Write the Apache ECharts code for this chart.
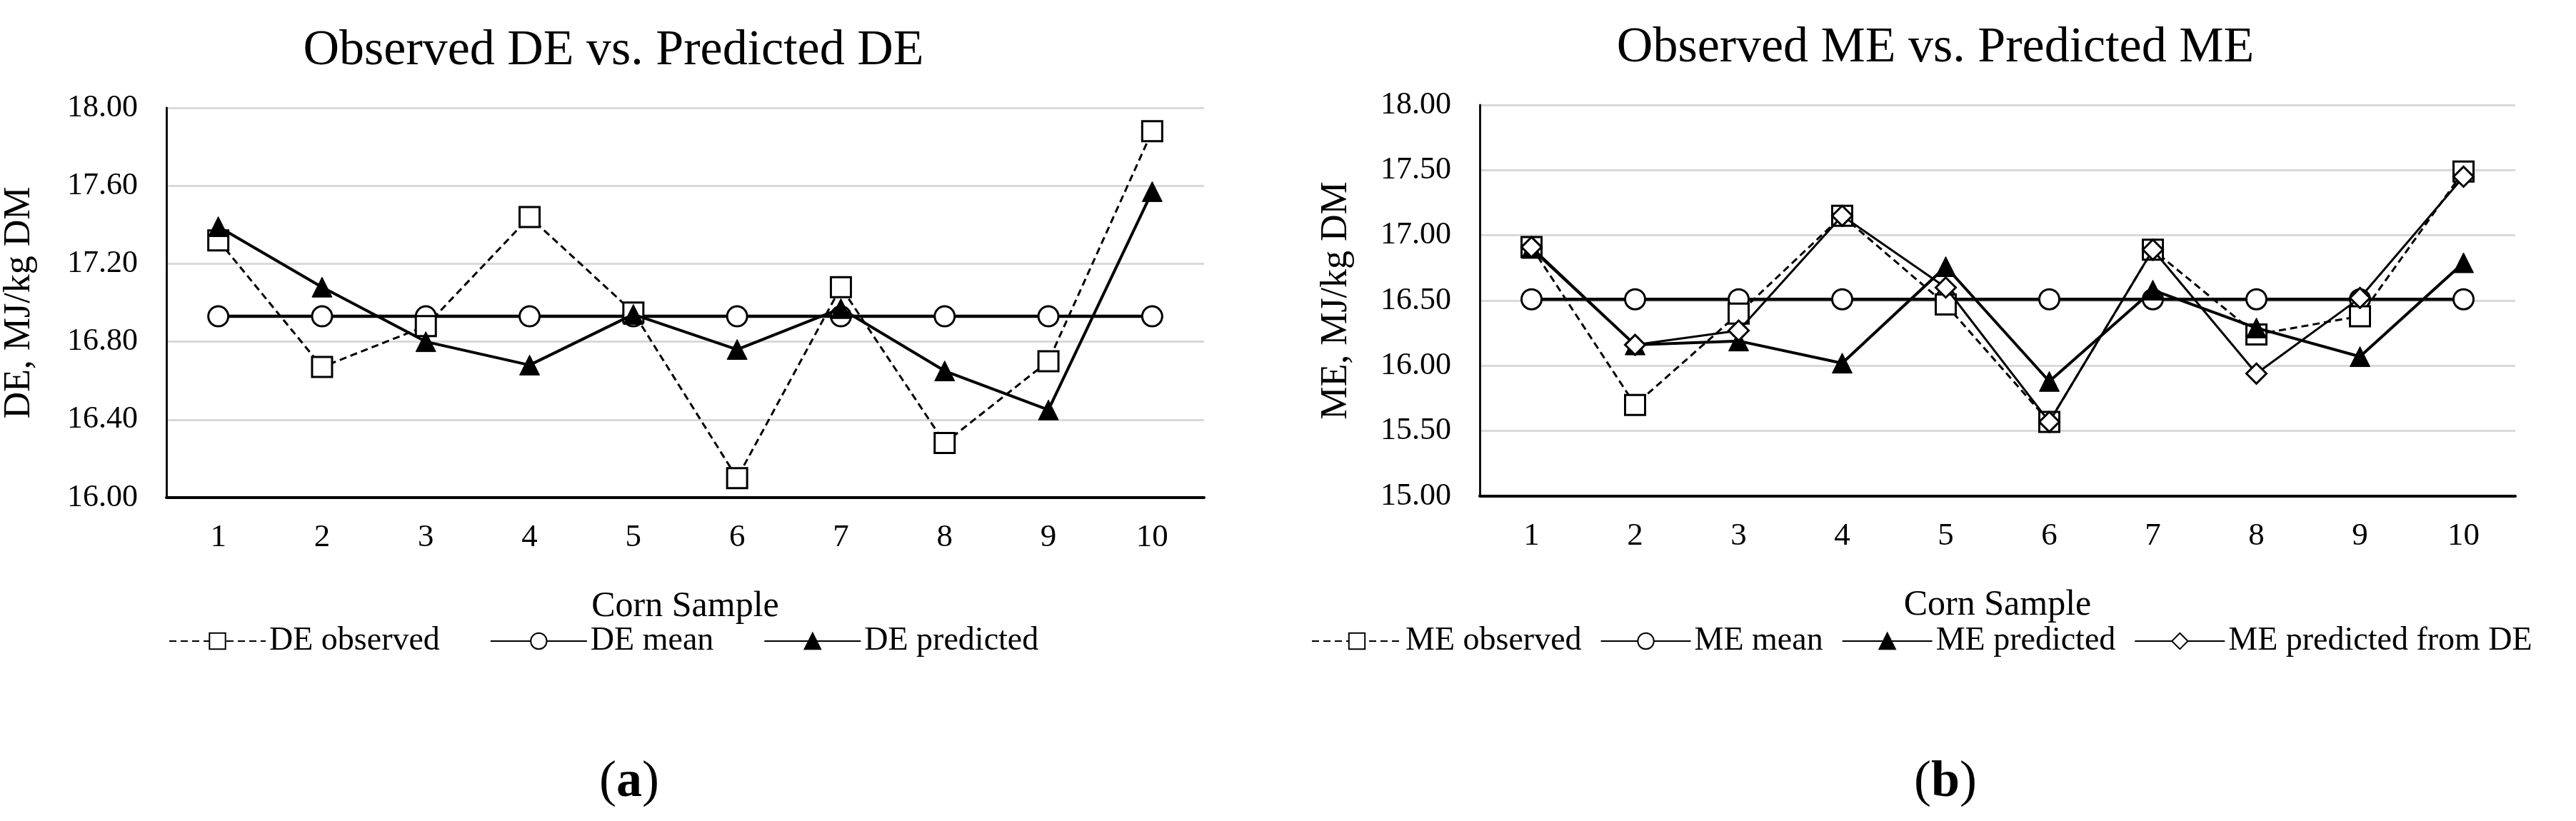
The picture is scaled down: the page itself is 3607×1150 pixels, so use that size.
<!DOCTYPE html>
<html>
<head>
<meta charset="utf-8">
<script src="https://cdn.jsdelivr.net/npm/echarts@6/dist/echarts.min.js"></script>
<style>html,body{margin:0;padding:0;background:#fff}#c{width:3607px;height:1150px}</style>
</head>
<body>
<div id="c"></div>
<script>
var categories = ['1','2','3','4','5','6','7','8','9','10'];
var deObserved  = [17.32, 16.67, 16.88, 17.44, 16.95, 16.10, 17.08, 16.28, 16.70, 17.88];
var deMean      = [16.93, 16.93, 16.93, 16.93, 16.93, 16.93, 16.93, 16.93, 16.93, 16.93];
var dePredicted = [17.39, 17.08, 16.80, 16.68, 16.94, 16.76, 16.97, 16.65, 16.45, 17.57];
var meObserved  = [16.91, 15.70, 16.40, 17.15, 16.47, 15.57, 16.89, 16.24, 16.38, 17.49];
var meMean      = [16.51, 16.51, 16.51, 16.51, 16.51, 16.51, 16.51, 16.51, 16.51, 16.51];
var mePredicted = [16.90, 16.16, 16.19, 16.02, 16.76, 15.88, 16.58, 16.29, 16.07, 16.79];
var mePredFromDE= [16.91, 16.16, 16.27, 17.15, 16.60, 15.57, 16.89, 15.94, 16.52, 17.45];
var deTicks = {min: 16, max: 18, interval: 0.4};
var meTicks = {min: 15, max: 18, interval: 0.5};

var FONT = '"Liberation Serif", "Times New Roman", serif';
var chart = echarts.init(document.getElementById('c'));

function xAx(gi){
  return {
    type: 'category', gridIndex: gi, data: categories, boundaryGap: true,
    axisLine: {lineStyle: {color: '#000', width: 4}},
    axisTick: {show: false},
    axisLabel: {color: '#000', fontFamily: FONT, fontSize: 45, margin: 34},
    name: 'Corn Sample', nameLocation: 'middle', nameGap: 128,
    nameTextStyle: {color: '#000', fontFamily: FONT, fontSize: 50}
  };
}
function yAx(gi, t, name, gap){
  return {
    type: 'value', gridIndex: gi, min: t.min, max: t.max, interval: t.interval,
    axisLine: {show: true, lineStyle: {color: '#111', width: 3}},
    axisTick: {show: false},
    splitLine: {lineStyle: {color: '#d9d9d9', width: 3}},
    axisLabel: {color: '#000', fontFamily: FONT, fontSize: 44, margin: 40,
      formatter: function(v){ return v.toFixed(2); }},
    name: name, nameLocation: 'middle', nameGap: gap, nameRotate: 90,
    nameTextStyle: {color: '#000', fontFamily: FONT, fontSize: 52}
  };
}
function obsSeries(name, gi, data){
  return {name: name, type: 'line', xAxisIndex: gi, yAxisIndex: gi, data: data,
    symbol: 'rect', symbolSize: 28, showAllSymbol: true,
    lineStyle: {color: '#000', width: 3, type: [10, 6]},
    itemStyle: {color: '#fff', borderColor: '#000', borderWidth: 3}, z: 3};
}
function meanSeries(name, gi, data){
  return {name: name, type: 'line', xAxisIndex: gi, yAxisIndex: gi, data: data,
    symbol: 'circle', symbolSize: 28,
    lineStyle: {color: '#000', width: 4.5},
    itemStyle: {color: '#fff', borderColor: '#000', borderWidth: 3}, z: 2};
}
function predSeries(name, gi, data){
  return {name: name, type: 'line', xAxisIndex: gi, yAxisIndex: gi, data: data,
    symbol: 'triangle', symbolSize: 28,
    lineStyle: {color: '#000', width: 4},
    itemStyle: {color: '#000', borderColor: '#000', borderWidth: 1}, z: 4};
}
function diamSeries(name, gi, data){
  return {name: name, type: 'line', xAxisIndex: gi, yAxisIndex: gi, data: data,
    symbol: 'diamond', symbolSize: 28,
    lineStyle: {color: '#000', width: 3},
    itemStyle: {color: '#fff', borderColor: '#000', borderWidth: 3}, z: 5};
}
var legendText = {color: '#000', fontFamily: FONT, fontSize: 46};

chart.setOption({
  backgroundColor: '#fff',
  animation: false,
  textStyle: {fontFamily: FONT, color: '#000'},
  title: [
    {text: 'Observed DE vs. Predicted DE', left: 854, top: 32, textAlign: 'center',
     textStyle: {color: '#000', fontFamily: FONT, fontSize: 70, fontWeight: 'normal'}},
    {text: 'Observed ME vs. Predicted ME', left: 2705, top: 28, textAlign: 'center',
     textStyle: {color: '#000', fontFamily: FONT, fontSize: 70, fontWeight: 'normal'}}
  ],
  grid: [
    {left: 231, top: 151, width: 1455, height: 546},
    {left: 2072, top: 147, width: 1450, height: 548}
  ],
  legend: [
    {data: ['DE observed','DE mean','DE predicted'], left: 231, top: 870, width: 1500,
     itemWidth: 135, itemHeight: 28, itemGap: 70, textStyle: legendText},
    {data: ['ME observed','ME mean','ME predicted','ME predicted from DE'], left: 1831, top: 870,
     width: 1770, itemWidth: 126, itemHeight: 28, itemGap: 26, textStyle: legendText}
  ],
  xAxis: [xAx(0), xAx(1)],
  yAxis: [yAx(0, deTicks, 'DE, MJ/kg DM', 180), yAx(1, meTicks, 'ME, MJ/kg DM', 175)],
  series: [
    obsSeries('DE observed', 0, deObserved),
    meanSeries('DE mean', 0, deMean),
    predSeries('DE predicted', 0, dePredicted),
    obsSeries('ME observed', 1, meObserved),
    meanSeries('ME mean', 1, meMean),
    predSeries('ME predicted', 1, mePredicted),
    diamSeries('ME predicted from DE', 1, mePredFromDE)
  ],
  graphic: [
    {type: 'text', left: 839, top: 1060, style: {text: '{n|(}{b|a}{n|)}', textAlign: 'center',
      rich: {n: {fontFamily: FONT, fontSize: 72, fill: '#000'}, b: {fontFamily: FONT, fontSize: 72, fontWeight: 'bold', fill: '#000'}}}},
    {type: 'text', left: 2680, top: 1060, style: {text: '{n|(}{b|b}{n|)}', textAlign: 'center',
      rich: {n: {fontFamily: FONT, fontSize: 72, fill: '#000'}, b: {fontFamily: FONT, fontSize: 72, fontWeight: 'bold', fill: '#000'}}}}
  ]
});
</script>
</body>
</html>
